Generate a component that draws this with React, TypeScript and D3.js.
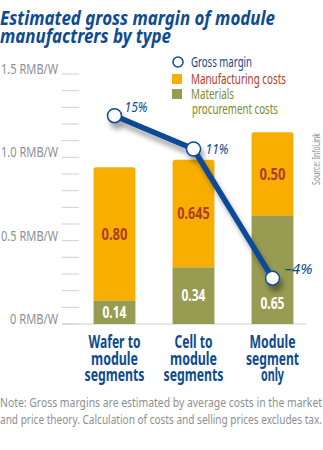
import React from "react";
import * as d3 from "d3";

const categories = [["Wafer to", "module", "segments"], ["Cell to", "module", "segments"], ["Module", "segment", "only"]];
const materialsCosts = [0.14, 0.34, 0.65];
const manufacturingCosts = [0.8, 0.645, 0.5];
const manufacturingLabels = ["0.80", "0.645", "0.50"];
const materialsLabels = ["0.14", "0.34", "0.65"];
const grossMarginPos = [1.25, 1.05, 0.275];
const grossMarginLabels = ["15%", "11%", "–4%"];
const yTicks = d3.range(0, 16).map((i) => i / 10);
const yLabelTicks = [0, 0.5, 1.0, 1.5];
const yTickLabels = ["0 RMB/W", "0.5 RMB/W", "1.0 RMB/W", "1.5 RMB/W"];

const W = 323, H = 450;
const BLUE = "#0d4a92";
const LINE = "#0c4a98";
const ORANGE = "#f8ae00";
const GREEN = "#979c52";
const RED = "#ad3c22";
const GREY = "#8b9095";
const FONT = "'Noto Sans', 'Open Sans', sans-serif";

// rendered widths of the condensed x-axis words (styling only)
const X_LABEL_WIDTH: Record<string, number> = {
  "Wafer to": 52, module: 47, segments: 60, "Cell to": 38, Module: 46, segment: 53, only: 23,
};

export default function App() {
  const idx = categories.map((_, i) => String(i));
  const x = d3.scaleBand().domain(idx).range([75, 312]).paddingInner(0.47).paddingOuter(0.235);
  const y = d3.scaleLinear().domain([0, 1.5]).range([324, 74]);
  const bw = x.bandwidth();
  const cx = (i: number) => (x(String(i)) as number) + bw / 2;
  const line = d3.line<number>().x((_, i) => cx(i)).y((d) => y(d));

  const Fit = (props: any) => {
    const { children, len, ...rest } = props;
    return (
      <text {...rest} textLength={len} lengthAdjust="spacingAndGlyphs">{children}</text>
    );
  };

  return (
    <svg width={W} height={H} style={{ display: "block", position: "absolute", left: 0, top: 0, background: "#fff" }}>
      <defs>
        <filter id="sh" x="-20%" y="-20%" width="140%" height="160%">
          <feGaussianBlur in="SourceAlpha" stdDeviation="2.5" />
          <feOffset dx="3" dy="6" result="b" />
          <feComponentTransfer><feFuncA type="linear" slope="0.35" /></feComponentTransfer>
          <feMerge><feMergeNode /><feMergeNode in="SourceGraphic" /></feMerge>
        </filter>
      </defs>
      <rect width={W} height={H} fill="#fff" />
      {/* Title */}
      <g fontFamily={FONT} fontWeight="bold" fontStyle="italic" fill={BLUE} fontSize={19}>
        <Fit x={0} y={25} len={275}>Estimated gross margin of module</Fit>
        <Fit x={0} y={43} len={171}>manufactrers by type</Fit>
      </g>
      {/* Legend */}
      <g fontFamily={FONT} fontSize={14.5}>
        <circle cx={178} cy={62} r={5} fill="#fff" stroke={LINE} strokeWidth={1.5} />
        <Fit x={191} y={67} fill={BLUE} len={61}>Gross margin</Fit>
        <rect x={172} y={74} width={10} height={10} fill={ORANGE} />
        <Fit x={191} y={84} fill={RED} len={95}>Manufacturing costs</Fit>
        <rect x={172} y={89} width={10} height={10} fill={GREEN} />
        <Fit x={191} y={99} fill="#7b8a25" len={43}>Materials</Fit>
        <Fit x={192} y={114} fill="#7b8a25" len={86}>procurement costs</Fit>
      </g>
      {/* Y axis ticks */}
      <g>
        {yTicks.map((t) => (
          <line key={t} x1={62} x2={79} y1={y(t)} y2={y(t)} stroke="#c9d1d9" strokeWidth={1} />
        ))}
        <line x1={62} x2={306} y1={y(0)} y2={y(0)} stroke="#c9d1d9" strokeWidth={1} />
        {yLabelTicks.map((t, i) => (
          <text key={t} x={58} y={y(t)} textAnchor="end" fontFamily={FONT} fontSize={14.5} fill={GREY}
            textLength={t === 0 ? 48 : 57} lengthAdjust="spacingAndGlyphs">
            {yTickLabels[i]}
          </text>
        ))}
      </g>
      {/* Bars */}
      <g>
        {categories.map((_, i) => {
          const x0 = x(String(i)) as number;
          const g0 = y(0), g1 = y(materialsCosts[i]);
          const o1 = y(materialsCosts[i] + manufacturingCosts[i]);
          return (
            <g key={i}>
              <path d={`M${x0},${g1} V${o1 + 2.5} Q${x0},${o1} ${x0 + 2.5},${o1} H${x0 + bw - 2.5} Q${x0 + bw},${o1} ${x0 + bw},${o1 + 2.5} V${g1} Z`} fill={ORANGE} />
              <rect x={x0} y={g1} width={bw} height={g0 - g1} fill={GREEN} />
            </g>
          );
        })}
      </g>
      {/* Bar labels */}
      <g fontFamily={FONT} fontWeight="bold" fontSize={15.5} textAnchor="middle">
        {categories.map((_, i) => {
          const g0 = y(0), g1 = y(materialsCosts[i]);
          const o1 = y(materialsCosts[i] + manufacturingCosts[i]);
          const gm = Math.max((g0 + g1) / 2, y(grossMarginPos[i]) + 25);
          const ml = manufacturingLabels[i];
          return (
            <g key={i}>
              <Fit x={cx(i)} y={(g1 + o1) / 2} dy="0.36em" fill={RED} len={ml.length * 6.5}>{ml}</Fit>
              <Fit x={cx(i)} y={gm} dy="0.36em" fill="#fff" len={24}>{materialsLabels[i]}</Fit>
            </g>
          );
        })}
      </g>
      {/* Gross margin line */}
      <g filter="url(#sh)">
        <path d={line(grossMarginPos) as string} fill="none" stroke={LINE} strokeWidth={5.5} />
        {grossMarginPos.map((v, i) => (
          <circle key={i} cx={cx(i)} cy={y(v)} r={7} fill="#fff" stroke={LINE} strokeWidth={1.5} />
        ))}
      </g>
      <g fontFamily={FONT} fontStyle="italic" fontSize={14.5} fill={BLUE}>
        {grossMarginPos.map((v, i) => (
          <Fit key={i} x={cx(i) + (i === 0 ? 10 : 12)} y={y(v) + (i === 1 ? 5 : -4)} len={i === 2 ? 28 : 23}>
            {grossMarginLabels[i]}
          </Fit>
        ))}
      </g>
      {/* Source */}
      <Fit transform="translate(320,185) rotate(-90)" fontFamily={FONT} fontSize={10} fill={GREY} len={52}>Source: InfoLink</Fit>
      {/* X labels */}
      <g fontFamily={FONT} fontWeight="bold" fontSize={18} fill={BLUE} textAnchor="middle">
        {categories.map((lines, i) =>
          lines.map((l, j) => (
            <Fit key={i + "-" + j} x={cx(i)} y={348 + j * 16.5} len={X_LABEL_WIDTH[l]}>{l}</Fit>
          ))
        )}
      </g>
      {/* Note */}
      <g fontFamily={FONT} fontSize={13} fill={GREY}>
        <Fit x={0} y={407} len={322}>Note: Gross margins are estimated by average costs in the market</Fit>
        <Fit x={0} y={424} len={322}>and price theory. Calculation of costs and selling prices excludes tax.</Fit>
      </g>
    </svg>
  );
}
